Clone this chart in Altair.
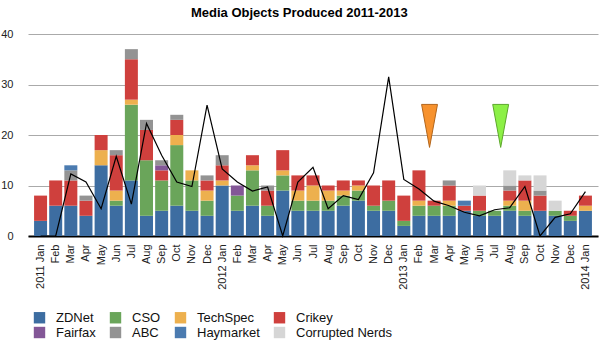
import altair as alt
import pandas as pd

months = ["2011 Jan", "Feb", "Mar", "Apr", "May", "Jun", "Jul", "Aug", "Sep", "Oct", "Nov", "Dec",
          "2012 Jan", "Feb", "Mar", "Apr", "May", "Jun", "Jul", "Aug", "Sep", "Oct", "Nov", "Dec",
          "2013 Jan", "Feb", "Mar", "Apr", "May", "Jun", "Jul", "Aug", "Sep", "Oct", "Nov", "Dec",
          "2014 Jan"]

series_names = ["ZDNet", "CSO", "TechSpec", "Crikey", "Fairfax", "ABC", "Haymarket", "Corrupted Nerds"]
series_colors = ["#3d6da1", "#6aa55a", "#edb04e", "#cf403d", "#835797", "#939393", "#4b7bb0", "#d6d6d6"]

zdnet = [3, 6, 6, 4, 14, 6, 11, 4, 5, 6, 5, 4,
         10, 5, 6, 4, 9, 5, 5, 5, 6, 7, 5, 5,
         2, 4, 4, 4, 5, 4, 4, 5, 4, 5, 4, 3,
         5]
cso = [0, 0, 0, 0, 0, 1, 15, 11, 6, 12, 6, 3,
       0, 3, 7, 2, 3, 2, 2, 2, 2, 2, 1, 2,
       1, 2, 2, 2, 0, 1, 1, 1, 1, 0, 1, 1,
       0]
techspec = [0, 0, 0, 0, 3, 2, 1, 0, 0, 2, 2, 2,
            1, 0, 1, 0, 1, 2, 3, 2, 1, 1, 0, 0,
            0, 1, 0, 1, 0, 0, 0, 1, 2, 0, 0, 0,
            1]
crikey = [5, 5, 5, 3, 3, 7, 8, 6, 2, 3, 0, 2,
          3, 0, 2, 3, 4, 3, 2, 1, 2, 1, 4, 4,
          5, 6, 1, 3, 1, 3, 0, 2, 4, 3, 0, 1,
          2]
fairfax = [0, 0, 0, 0, 0, 0, 0, 0, 1, 0, 0, 0,
           0, 2, 0, 0, 0, 0, 0, 0, 0, 0, 0, 0,
           0, 0, 0, 0, 0, 0, 0, 0, 0, 0, 0, 0,
           0]
abc = [0, 0, 2, 1, 0, 1, 2, 2, 1, 1, 0, 1,
       2, 0, 0, 1, 0, 0, 0, 0, 0, 0, 0, 0,
       0, 0, 0, 1, 0, 0, 0, 1, 0, 1, 0, 0,
       0]
haymarket = [0, 0, 1, 0, 0, 0, 0, 0, 0, 0, 0, 0,
             0, 0, 0, 0, 0, 0, 0, 0, 0, 0, 0, 0,
             0, 0, 0, 0, 1, 0, 0, 0, 0, 0, 0, 0,
             0]
corrupted = [0, 0, 0, 0, 0, 0, 0, 0, 0, 0, 0, 0,
             0, 0, 0, 0, 0, 0, 0, 0, 0, 0, 0, 0,
             0, 0, 0, 0, 0, 2, 0, 3, 1, 3, 2, 0,
             0]

line_values = [0, 0, 12.3, 10.7, 5.4, 15.8, 6.3, 22.3, 16, 10.7, 9.8, 25.9,
               13.3, 10.7, 8.9, 9.7, 0, 10.7, 13.6, 5.4, 8, 7.2, 12.5, 31.5,
               11.2, 9.3, 6.9, 6, 4.7, 4, 5.2, 5.6, 9.8, 0, 3.7, 4.4,
               8.8]

marker_names = ["event A", "event B"]
marker_pos = [25.7, 30.4]
marker_val = [21.8, 21.8]
marker_fill = ["#f7922e", "#8cf046"]
marker_stroke = ["#b3661c", "#5da82c"]

all_series = [zdnet, cso, techspec, crikey, fairfax, abc, haymarket, corrupted]
rows = []
for o, (name, vals) in enumerate(zip(series_names, all_series)):
    for i, v in enumerate(vals):
        rows.append({"i": i, "s": name, "v": v, "o": o})
bar_df = pd.DataFrame(rows)
line_df = pd.DataFrame({"i": list(range(len(months))), "v": line_values})
mark_df = pd.DataFrame({"i": marker_pos, "v": marker_val, "m": marker_names})

FONT = "Liberation Sans"
label_expr = "[" + ",".join("'%s'" % m for m in months) + "][datum.value]"

x_scale = alt.Scale(domain=[-0.5, len(months) - 0.5], nice=False, zero=False)
y_scale = alt.Scale(domain=[0, 40], nice=False)

x_axis = alt.Axis(values=list(range(len(months))), labelExpr=label_expr, labelAngle=-90,
                  grid=False, ticks=False, tickSize=0, labelPadding=8, domainColor="black",
                  domainWidth=2, title=None, labelFontSize=11, labelColor="#222222",
                  labelFont=FONT, labelOverlap=False, labelBound=False, labelFlush=False,
                  labelSeparation=0)
y_axis = alt.Axis(values=[0, 10, 20, 30, 40], grid=True, gridColor="#aaaaaa", gridWidth=1,
                  ticks=False, tickSize=0, domain=False, labelPadding=15, title=None,
                  labelFontSize=11, labelColor="#222222", labelFont=FONT)

bars = alt.Chart(bar_df).mark_bar(size=13).encode(
    x=alt.X("i:Q", scale=x_scale, axis=x_axis),
    y=alt.Y("v:Q", stack="zero", scale=y_scale, axis=y_axis),
    color=alt.Color("s:N", scale=alt.Scale(domain=series_names, range=series_colors),
                    legend=alt.Legend(orient="none", legendX=5, legendY=277, columns=4,
                                      direction="horizontal",
                                      symbolType="square", symbolSize=130, symbolStrokeWidth=0,
                                      labelFontSize=13, labelFont=FONT, labelColor="#111111",
                                      labelOffset=10, columnPadding=13, rowPadding=1,
                                      title=None, padding=0)),
    order=alt.Order("o:Q"),
)

line = alt.Chart(line_df).mark_line(color="black", strokeWidth=1.2).encode(
    x=alt.X("i:Q", scale=x_scale, axis=x_axis),
    y=alt.Y("v:Q", scale=y_scale, axis=y_axis),
)

tri_path = "M-0.37,-1L0.37,-1L0,1Z"
tris = alt.Chart(mark_df).mark_point(shape=tri_path, size=1849, filled=True, opacity=1,
                                     strokeWidth=1).encode(
    x=alt.X("i:Q", scale=x_scale, axis=x_axis),
    y=alt.Y("v:Q", scale=y_scale, axis=y_axis),
    fill=alt.Fill("m:N", scale=alt.Scale(domain=marker_names, range=marker_fill), legend=None),
    stroke=alt.Stroke("m:N", scale=alt.Scale(domain=marker_names, range=marker_stroke), legend=None),
)

chart = alt.layer(bars, line, tris).properties(
    width=570, height=202,
    title=alt.TitleParams("Media Objects Produced 2011-2013", fontSize=13, fontWeight="bold",
                          font=FONT, anchor="middle", frame="bounds", offset=8, color="black"),
    autosize=alt.AutoSizeParams(type="none"),
    padding={"left": 28, "top": 34, "right": 2, "bottom": 114},
).configure_view(stroke=None).configure_axisX(labelOverlap=False)

chart.save("out.html", embed_options={"renderer": "svg", "actions": False})
